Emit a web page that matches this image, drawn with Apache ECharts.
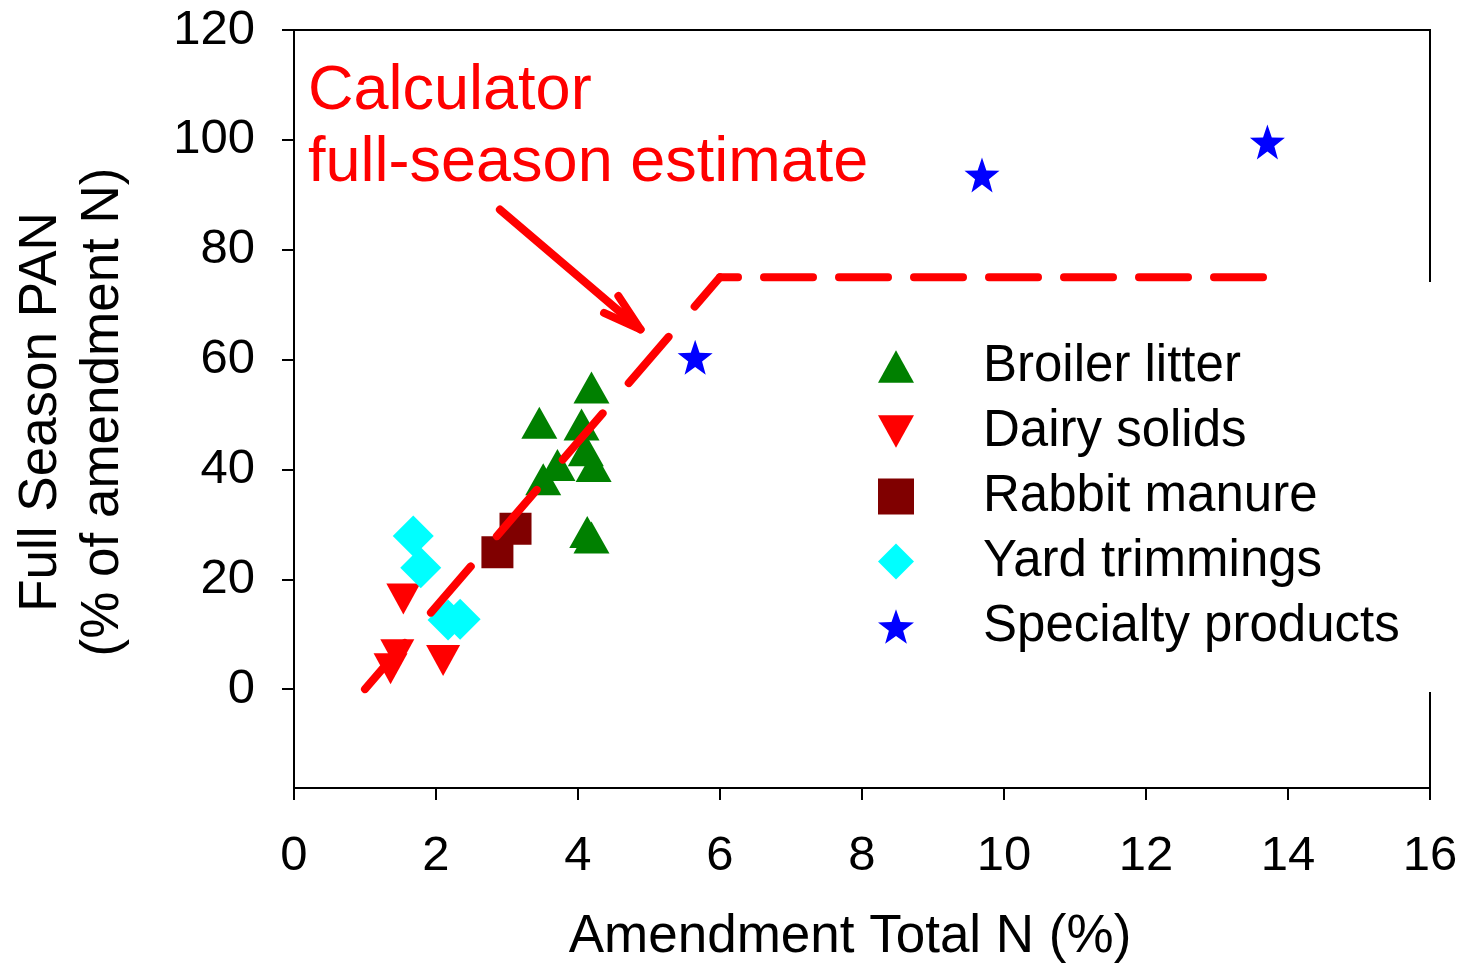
<!DOCTYPE html>
<html><head><meta charset="utf-8">
<script src="https://cdn.jsdelivr.net/npm/echarts@6/dist/echarts.min.js"></script>
<style>html,body{margin:0;padding:0;background:#fff}#c{width:1463px;height:963px}</style>
</head><body><div id="c"></div>
<script>
const xTicks = [0, 2, 4, 6, 8, 10, 12, 14, 16];
const yTicks = [0, 20, 40, 60, 80, 100, 120];
const seriesNames = ['Broiler litter', 'Dairy solids', 'Rabbit manure', 'Yard trimmings', 'Specialty products'];
const broilerLitter = [[4.19,54.9],[3.455,48.5],[4.05,48.2],[3.71,40.8],[3.51,38.2],[4.11,43.5],[4.22,40.6],[4.13,28.6],[4.19,27.6]];
const dairySolids = [[1.54,16.4],[1.455,6.25],[1.36,3.7],[2.10,5.2]];
const rabbitManure = [[2.865,24.9],[3.12,29.2]];
const yardTrimmings = [[1.68,27.9],[1.785,22.1],[2.17,12.6],[2.34,12.7]];
const specialtyProducts = [[5.65,60.4],[9.69,93.6],[13.71,99.6]];
const calculatorEstimate = [[1,0],[6,75],[14,75]];
const annotationLines = ['Calculator', 'full-season estimate'];
const arrowFrom = [2.90, 87.3];
const arrowTo = [4.88, 65.5];
const xTitle = 'Amendment Total N (%)';
const yTitle = 'Full Season PAN\n(% of amendment N)';

const FONT = "'Liberation Sans', Arial, sans-serif";
const STAR = 'path://M50,2 L62,36 L98,37 L69,59 L79,94 L50,73 L21,94 L31,59 L2,37 L38,36 Z';
const DOWN = 'path://M0,0 L10,0 L5,9 Z';
const UP = 'path://M5,0 L10,9 L0,9 Z';

const chart = echarts.init(document.getElementById('c'), null, {renderer: 'canvas'});
const axisCommon = {
  axisLine: {show: true, onZero: false, lineStyle: {color: '#000', width: 2}},
  axisTick: {show: true, inside: false, length: 12, lineStyle: {color: '#000', width: 2}},
  splitLine: {show: false},
  axisLabel: {color: '#000', fontSize: 49, fontFamily: FONT}
};
const option = {
  backgroundColor: '#fff',
  animation: false,
  grid: {left: 294, right: 33, top: 30, bottom: 175, show: true, borderColor: '#000', borderWidth: 2, backgroundColor: 'transparent'},
  xAxis: Object.assign({}, axisCommon, {
    type: 'value', min: xTicks[0], max: xTicks[xTicks.length-1], interval: 2,
    axisLabel: Object.assign({}, axisCommon.axisLabel, {margin: 44})
  }),
  yAxis: Object.assign({}, axisCommon, {
    type: 'value', min: -18, max: yTicks[yTicks.length-1],
    axisTick: Object.assign({}, axisCommon.axisTick, {customValues: yTicks}),
    axisLabel: Object.assign({}, axisCommon.axisLabel, {margin: 39, customValues: yTicks, padding: [9,0,0,0]})
  }),
  legend: {
    data: seriesNames,
    orient: 'vertical',
    left: 858, top: 282,
    padding: [59, 50, 40, 20],
    backgroundColor: '#fff',
    itemWidth: 36, itemHeight: 36,
    itemGap: 14,
    textStyle: {color: '#000', fontSize: 51, lineHeight: 50, fontFamily: FONT, padding: [0,0,0,64]},
    selectedMode: false
  },
  series: [
    {name: seriesNames[0], type: 'scatter', data: broilerLitter, symbol: UP, symbolSize: [36,32], itemStyle: {color: '#008000', opacity: 1}},
    {name: seriesNames[1], type: 'scatter', data: dairySolids, symbol: DOWN, symbolSize: [34,31], itemStyle: {color: '#ff0000', opacity: 1}},
    {name: seriesNames[2], type: 'scatter', data: rabbitManure, symbol: 'rect', symbolSize: 32, itemStyle: {color: '#800000', opacity: 1}},
    {name: seriesNames[3], type: 'scatter', data: yardTrimmings, symbol: 'diamond', symbolSize: 41, itemStyle: {color: '#00ffff', opacity: 1}},
    {name: seriesNames[4], type: 'scatter', data: specialtyProducts, symbol: STAR, symbolSize: 35, itemStyle: {color: '#0000ff', opacity: 1}},
    {name: 'calc-rise', type: 'line', z: 5, data: calculatorEstimate.slice(0,2), symbol: 'none',
     lineStyle: {color: '#ff0000', width: 8, cap: 'round', type: [61, 40]}},
    {name: 'calc-plateau', type: 'line', z: 5, data: calculatorEstimate.slice(1), symbol: 'none',
     lineStyle: {color: '#ff0000', width: 8, cap: 'round', type: [49, 26], dashOffset: 31}}
  ]
};
chart.setOption(option);

const p0 = chart.convertToPixel({gridIndex: 0}, arrowFrom);
const p1 = chart.convertToPixel({gridIndex: 0}, arrowTo);
const ang = Math.atan2(p1[1]-p0[1], p1[0]-p0[0]) + Math.PI;
const barbLen = 40, barbAng = 0.28;
const b1 = [p1[0] + barbLen*Math.cos(ang+barbAng), p1[1] + barbLen*Math.sin(ang+barbAng)];
const b2 = [p1[0] + barbLen*Math.cos(ang-barbAng), p1[1] + barbLen*Math.sin(ang-barbAng)];

chart.setOption({graphic: [
  {type: 'text', left: 308, top: 60, style: {text: annotationLines[0], fill: '#ff0000', font: '63px ' + FONT}},
  {type: 'text', left: 308, top: 132, style: {text: annotationLines[1], fill: '#ff0000', font: '63px ' + FONT}},
  {type: 'line', shape: {x1: p0[0], y1: p0[1], x2: p1[0], y2: p1[1]}, style: {stroke: '#ff0000', lineWidth: 8, lineCap: 'round'}, z: 10},
  {type: 'polyline', shape: {points: [b1, p1, b2]}, style: {stroke: '#ff0000', lineWidth: 8, lineCap: 'round', lineJoin: 'round', fill: null}, z: 10},
  {type: 'text', x: 850, y: 937, style: {text: xTitle, fill: '#000', font: '53px ' + FONT, align: 'center', verticalAlign: 'middle'}},
  {type: 'text', x: 72, y: 412, rotation: Math.PI/2, style: {text: yTitle, fill: '#000', font: '53px ' + FONT, align: 'center', verticalAlign: 'middle', lineHeight: 62}}
]});
</script></body></html>
